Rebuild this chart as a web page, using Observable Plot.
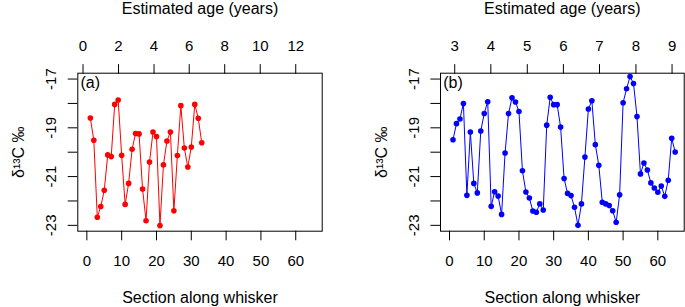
<!DOCTYPE html>
<html><head><meta charset="utf-8">
<script src="https://cdn.jsdelivr.net/npm/d3@7"></script>
<script src="https://cdn.jsdelivr.net/npm/@observablehq/plot@0.6"></script>
<style>
html,body{margin:0;padding:0;background:#fff;overflow:hidden}
#wrap{position:relative;width:685px;height:307px;overflow:hidden;background:#fff}
#wrap > svg{position:absolute;top:0}
</style></head><body><div id="wrap"></div>
<script>
// δ13C values per whisker section (section = index + 1)
const valuesA = [-18.60, -19.51, -22.67, -22.23, -21.56, -20.11, -20.18, -18.04, -17.86, -20.13,
  -22.14, -21.28, -19.88, -19.23, -19.25, -21.51, -22.81, -20.40, -19.17, -19.36,
  -23.01, -20.52, -19.54, -19.17, -22.40, -20.14, -18.09, -19.83, -20.61, -19.79,
  -18.04, -18.61, -19.61];
const valuesB = [-19.49, -18.83, -18.64, -18.00, -21.77, -19.17, -21.28, -21.67, -19.13, -18.41,
  -17.93, -22.22, -21.62, -21.80, -22.55, -20.03, -18.41, -17.77, -17.94, -18.33,
  -20.76, -21.63, -21.88, -22.41, -22.46, -22.12, -22.37, -18.89, -17.75, -18.05,
  -18.05, -18.97, -21.08, -21.69, -21.78, -22.26, -23.00, -22.12, -20.20, -18.23,
  -17.89, -19.69, -20.54, -22.05, -22.12, -22.19, -22.40, -22.87, -21.75, -17.97,
  -17.40, -16.90, -17.18, -18.54, -20.89, -20.44, -20.73, -21.26, -21.47, -21.64,
  -21.39, -21.81, -21.15, -19.43, -19.99];

const sectionTicks = [0, 10, 20, 30, 40, 50, 60];
const ageLabelsA = [0, 2, 4, 6, 8, 10, 12];
const ageTickSectionsA = [-1.1, 9.1, 19.3, 29.4, 39.6, 49.8, 60.0];
const ageLabelsB = [3, 4, 5, 6, 7, 8, 9];
const ageTickSectionsB = [1.5, 11.9, 22.4, 32.8, 43.2, 53.7, 64.1];
const yTicks = [-23, -22, -21, -20, -19, -18, -17];
const yLabels = [-23, -21, -19, -17];
const panelLabels = ["(a)", "(b)"];
const seriesColors = ["#ff0000", "#0000ff"];
const xTitle = "Section along whisker";
const topTitle = "Estimated age (years)";
const yTitle = "δ¹³C ‰";

function panel(values, ageLabels, ageSections, label, color, width, marginLeft, marginRight) {
  const ageMap = new Map(ageSections.map((s, i) => [s, String(ageLabels[i])]));
  return Plot.plot({
    width, height: 307,
    marginTop: 72.7, marginBottom: 76.3, marginLeft, marginRight,
    style: {fontFamily: "'Liberation Sans', Arial, sans-serif", fontSize: "15px", color: "black", background: "white", overflow: "visible"},
    x: {domain: [-2.6, 67.6]},
    y: {domain: [-23.24, -16.76]},
    marks: [
      Plot.axisX({anchor: "bottom", ticks: sectionTicks, tickSize: 9.6, tickPadding: 14.7, tickFormat: d => String(d), label: null, fontSize: 15}),
      Plot.axisX({anchor: "top", ticks: ageSections, tickSize: 9.6, tickPadding: 12.6, tickFormat: d => ageMap.get(d), label: null, fontSize: 15}),
      Plot.axisY({ticks: yTicks, tickSize: 9.6, tickFormat: () => "", label: null}),
      Plot.text(yLabels, {y: d => d, text: d => String(d), frameAnchor: "left", dx: -26.8, rotate: -90, textAnchor: "middle", lineAnchor: "middle", fontSize: 15}),
      Plot.text([yTitle], {text: d => d, frameAnchor: "left", dx: -59, rotate: -90, textAnchor: "middle", lineAnchor: "middle", fontSize: 16}),
      Plot.text([topTitle], {text: d => d, frameAnchor: "top", dy: -59.4, lineAnchor: "bottom", fontSize: 16}),
      Plot.text([xTitle], {text: d => d, frameAnchor: "bottom", dy: 72, lineAnchor: "bottom", fontSize: 16}),
      Plot.text([label], {text: d => d, frameAnchor: "top-left", dx: 2.7, dy: 3.3, lineAnchor: "top", textAnchor: "start", fontSize: 16}),
      Plot.line(values, {x: (d, i) => i + 1, y: d => d, stroke: color, strokeWidth: 1}),
      Plot.dot(values, {x: (d, i) => i + 1, y: d => d, r: 2.8, fill: color, stroke: null}),
      Plot.frame({stroke: "black", strokeWidth: 1})
    ]
  });
}

const wrap = document.getElementById("wrap");
const a = panel(valuesA, ageLabelsA, ageTickSectionsA, panelLabels[0], seriesColors[0], 363, 77.3, 41.3);
a.style.left = "0px";
wrap.appendChild(a);
const b = panel(valuesB, ageLabelsB, ageTickSectionsB, panelLabels[1], seriesColors[1], 322, 77, 1.3);
b.style.left = "363px";
wrap.appendChild(b);
</script></body></html>
